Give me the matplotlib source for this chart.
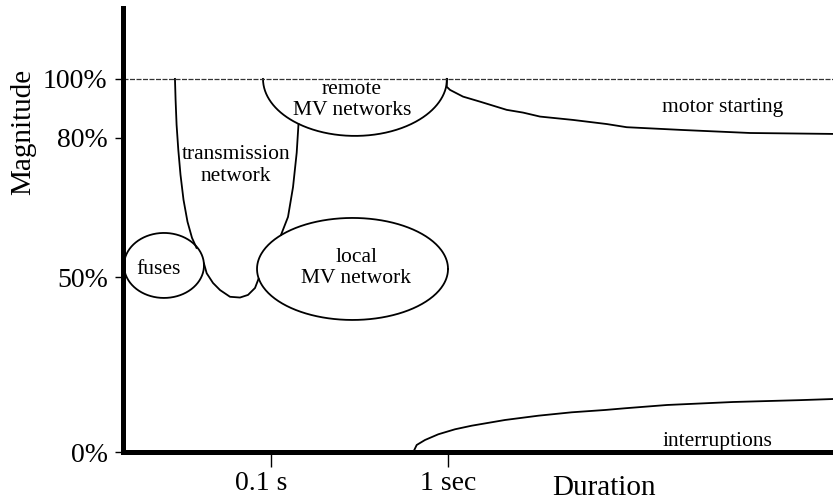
import numpy as np
import matplotlib
matplotlib.use("Agg")
import matplotlib.pyplot as plt
from matplotlib.transforms import ScaledTranslation

plt.rcParams['font.family'] = ['Liberation Serif', 'DejaVu Serif']

# ---- data (duration in seconds, log axis; magnitude in schematic units, 100 = nominal) ----
x_ticks = [0.1, 1.0]
x_tick_labels = ["0.1 s", "1 sec"]
y_ticks = [0.0, 46.8, 84.2, 100.0]
y_tick_labels = ["0%", "50%", "80%", "100%"]
x_limits = [0.01463, 147.8]
y_limits = [0.0, 119.0]
nominal_level = 100.0

# ellipses: centre duration (s), half-width (decades), centre magnitude, half-height
fuses_ellipse = [0.02491, 0.2256, 50.0, 8.71]
local_mv_ellipse = [0.2882, 0.5386, 49.06, 13.67]
remote_mv_half_ellipse = [0.2977, 0.5189, 100.0, 15.28]

trans_left_t = [0.02873, 0.02896, 0.02934, 0.03000, 0.03087, 0.03210, 0.03381, 0.03584, 0.03801]
trans_left_m = [100.0, 94.4, 87.7, 81.0, 74.3, 67.6, 61.7, 57.4, 54.7]
trans_right_t = [0.1429, 0.1396, 0.1331, 0.1247, 0.1139]
trans_right_m = [87.9, 80.2, 71.0, 63.0, 58.2]
trans_bottom_t = [0.04188, 0.04338, 0.04709, 0.05159, 0.05872, 0.06686, 0.07419, 0.08125, 0.08502]
trans_bottom_m = [50.5, 47.9, 45.3, 43.4, 41.6, 41.4, 42.1, 43.96, 46.4]

motor_t = [0.9795, 0.9795, 1.0223, 1.2105, 1.5094, 2.1354, 2.6385, 3.290, 5.051,
           7.823, 10.14, 21.07, 50.3, 147.8]
motor_m = [100.0, 97.9, 97.05, 95.25, 93.9, 91.7, 90.97, 89.9, 89.0,
           87.9, 87.05, 86.3, 85.5, 85.25]

interr_t = [0.6348, 0.6633, 0.7389, 0.8782, 1.0909, 1.3551, 2.0885, 3.2185, 4.966,
            7.654, 9.922, 17.12, 40.3, 96.3, 147.8]
interr_m = [0.0, 1.88, 3.22, 4.75, 6.09, 7.05, 8.58, 9.73, 10.64,
            11.26, 11.72, 12.6, 13.4, 13.9, 14.2]

region_labels = ["fuses", "transmission\nnetwork", "remote\nMV networks",
                 "local\nMV network", "motor starting", "interruptions"]
region_label_t = [0.02335, 0.0635, 0.2863, 0.3035, 35.3, 33.1]
region_label_m = [48.8, 76.8, 94.4, 49.2, 92.2, 2.9]

# ---- figure ----
fig = plt.figure(figsize=(8.33, 5.01), dpi=100)
ax = fig.add_axes([123 / 833, 49 / 501, 710 / 833, 444 / 501])
ax.set_xscale('log')
ax.set_xlim(*x_limits)
ax.set_ylim(*y_limits)

lw = 1.3
col = 'black'


def log_ellipse(params, t0=0.0, t1=2 * np.pi):
    c, hw, cy, hh = params
    th = np.linspace(t0, t1, 300)
    return c * 10 ** (hw * np.cos(th)), cy + hh * np.sin(th)


for p in (fuses_ellipse, local_mv_ellipse):
    ex, ey = log_ellipse(p)
    ax.plot(ex, ey, color=col, lw=lw)
ex, ey = log_ellipse(remote_mv_half_ellipse, np.pi, 2 * np.pi)
ax.plot(ex, ey, color=col, lw=lw)

ax.plot(trans_left_t, trans_left_m, color=col, lw=lw)
ax.plot(trans_right_t, trans_right_m, color=col, lw=lw)
ax.plot(trans_bottom_t, trans_bottom_m, color=col, lw=lw)
ax.plot(motor_t, motor_m, color=col, lw=lw)
ax.plot(interr_t, interr_m, color=col, lw=lw)

ax.axhline(nominal_level, color='#333333', lw=0.9, linestyle=(0, (4, 1.2)))

for txt, t, m in zip(region_labels, region_label_t, region_label_m):
    ax.text(t, m, txt, ha='center', va='center', fontsize=15.5, linespacing=1.15)

# ---- axes styling ----
for s in ('top', 'right'):
    ax.spines[s].set_visible(False)
for s in ('left', 'bottom'):
    ax.spines[s].set_linewidth(3.6)

ax.set_xticks(x_ticks)
ax.set_xticklabels(x_tick_labels)
ax.xaxis.set_minor_locator(matplotlib.ticker.NullLocator())
ax.tick_params(axis='x', direction='out', length=11, width=1.0, pad=3, labelsize=20)
ax.set_yticks(y_ticks)
ax.set_yticklabels(y_tick_labels)
ax.tick_params(axis='y', direction='out', length=6, width=1.0, pad=5, labelsize=20)

lab0 = ax.get_xticklabels()[0]
lab0.set_transform(lab0.get_transform() + ScaledTranslation(-10 / 100, 0, fig.dpi_scale_trans))

ax.set_ylabel("Magnitude", fontsize=21)
ax.yaxis.label.set_va('center')
ax.yaxis.set_label_coords(-0.140, 0.72)
ax.set_xlabel("Duration", fontsize=21)
ax.xaxis.label.set_va('baseline')
ax.xaxis.set_label_coords(0.678, -0.0968)

fig.savefig("out.png", dpi=100)
